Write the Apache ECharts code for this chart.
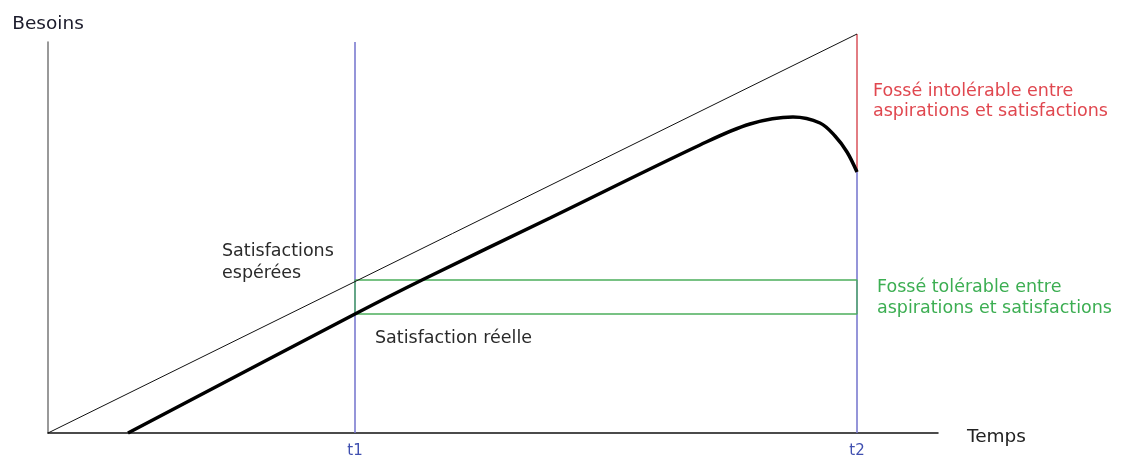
<!DOCTYPE html>
<html>
<head>
<meta charset="utf-8">
<script src="https://cdn.jsdelivr.net/npm/echarts@6/dist/echarts.min.js"></script>
<style>
  html, body { margin: 0; padding: 0; background: #fff; }
  #chart { width: 1123px; height: 459px; }
</style>
</head>
<body>
<div id="chart"></div>
<script>
// time runs 0..890, needs 0..391 (arbitrary units)
const tickPositions = [307, 809];
const tickLabels = ["t1", "t2"];

// expected satisfaction: straight line
const expected = [[0, 0], [809, 399]];

// real satisfaction: rises, peaks, then drops before t2
const realX = [80, 307, 374, 502, 652, 702, 745, 772, 787, 799, 809];
const realY = [0, 119, 153, 215, 288, 309, 316, 310, 297, 281, 261];

// tolerable gap at t1, carried to t2
const gapLow = 119;
const gapHigh = 153;
// intolerable gap at t2
const gapTopT2 = 399;
const gapBottomT2 = 261;

const yMax = 391;
const font = "'DejaVu Sans', 'Open Sans', sans-serif";

const chart = echarts.init(document.getElementById("chart"), undefined, { renderer: "canvas" });

chart.setOption({
  animation: false,
  backgroundColor: "#fff",
  textStyle: { fontFamily: font },
  grid: { left: 48, top: 42, width: 890, height: 391, outerBoundsMode: "none", containLabel: false },
  xAxis: {
    type: "value",
    min: 0,
    max: 890,
    splitLine: { show: false },
    axisLine: { lineStyle: { color: "#111", width: 1.5 } },
    axisTick: { show: false },
    axisLabel: {
      customValues: tickPositions,
      formatter: (v) => tickLabels[tickPositions.indexOf(v)],
      color: "#4050b0",
      fontSize: 15,
      margin: 11,
      fontFamily: font
    },
    name: "Temps",
    nameLocation: "end",
    nameGap: 29,
    nameTextStyle: { color: "#222", fontSize: 18.5, fontFamily: font, verticalAlign: "top", lineHeight: 8 }
  },
  yAxis: {
    type: "value",
    min: 0,
    max: yMax,
    splitLine: { show: false },
    axisLine: { show: true, lineStyle: { color: "#777", width: 1.5 } },
    axisTick: { show: false },
    axisLabel: { show: false },
    name: "Besoins",
    nameLocation: "end",
    nameGap: 18,
    nameTextStyle: { color: "#1c1c2c", fontSize: 18.5, fontFamily: font, align: "center", verticalAlign: "middle" }
  },
  series: [
    {
      type: "line",
      data: [[tickPositions[0], 0], [tickPositions[0], yMax]],
      showSymbol: false,
      clip: false,
      lineStyle: { color: "#7272cc", width: 1.5 }
    },
    {
      type: "line",
      data: [[tickPositions[1], 0], [tickPositions[1], gapBottomT2]],
      showSymbol: false,
      clip: false,
      lineStyle: { color: "#7272cc", width: 1.5 }
    },
    {
      type: "line",
      data: [[tickPositions[1], gapBottomT2], [tickPositions[1], gapTopT2]],
      showSymbol: false,
      clip: false,
      lineStyle: { color: "#d9525a", width: 1.5 }
    },
    {
      type: "line",
      data: [
        [tickPositions[0], gapLow], [tickPositions[1], gapLow],
        [tickPositions[1], gapHigh], [tickPositions[0], gapHigh],
        [tickPositions[0], gapLow]
      ],
      showSymbol: false,
      clip: false,
      lineStyle: { color: "#4caf5c", width: 1.3 }
    },
    {
      type: "line",
      data: expected,
      showSymbol: false,
      clip: false,
      lineStyle: { color: "#111", width: 1 }
    },
    {
      type: "line",
      data: realX.map((x, i) => [x, realY[i]]),
      showSymbol: false,
      smooth: 0.35,
      clip: false,
      lineStyle: { color: "#000", width: 3.5 }
    }
  ],
  graphic: [
    {
      type: "text", left: 222, top: 240,
      style: { text: "Satisfactions\nespérées", fill: "#2a2a2a", font: "17.5px " + font, lineHeight: 22 }
    },
    {
      type: "text", left: 375, top: 327,
      style: { text: "Satisfaction réelle", fill: "#2a2a2a", font: "17.5px " + font, lineHeight: 22 }
    },
    {
      type: "text", left: 873, top: 81,
      style: { text: "Fossé intolérable entre\naspirations et satisfactions", fill: "#e0474f", font: "17.5px " + font, lineHeight: 20 }
    },
    {
      type: "text", left: 877, top: 277,
      style: { text: "Fossé tolérable entre\naspirations et satisfactions", fill: "#3cae52", font: "17.5px " + font, lineHeight: 21 }
    }
  ]
});
</script>
</body>
</html>
